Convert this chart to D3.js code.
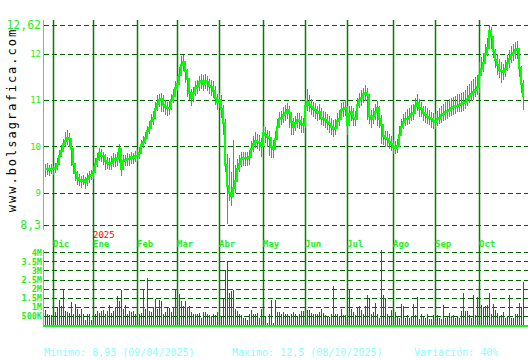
<!DOCTYPE html>
<html>
<head>
<meta charset="utf-8">
<script src="https://cdn.jsdelivr.net/npm/d3@7"></script>
<style>
  body { margin: 0; background: #fff; }
  svg { display: block; }
</style>
</head>
<body>
<div id="chart"></div>
<script>
// Data ----------------------------------------------
const closes = [
  9.50,9.52,9.48,9.52,9.50,9.53,9.62,9.78,9.90,10.05,
  10.12,10.18,10.15,9.95,9.62,9.42,9.32,9.28,9.25,9.28,
  9.22,9.30,9.35,9.38,9.45,9.62,9.72,9.85,9.80,9.78,
  9.68,9.64,9.62,9.65,9.72,9.70,9.75,9.95,9.52,9.68,
  9.70,9.73,9.72,9.76,9.75,9.78,9.80,9.86,10.02,10.10,
  10.18,10.32,10.40,10.55,10.62,10.80,10.92,11.00,11.02,10.90,
  10.85,10.82,10.82,11.00,11.08,11.25,11.35,11.55,11.75,11.82,
  11.62,11.45,11.15,11.05,11.15,11.25,11.30,11.38,11.40,11.35,
  11.42,11.38,11.30,11.28,11.20,11.05,10.95,11.00,10.80,10.50,
  9.60,9.15,9.00,8.93,9.10,9.25,9.50,9.62,9.72,9.74,
  9.75,9.75,9.76,9.95,10.05,10.12,10.10,10.08,10.00,10.28,
  10.25,10.20,10.18,9.98,9.95,10.15,10.42,10.58,10.62,10.68,
  10.72,10.78,10.72,10.52,10.42,10.50,10.57,10.55,10.48,10.45,
  10.88,10.95,10.90,10.85,10.80,10.78,10.72,10.75,10.62,10.60,
  10.57,10.52,10.48,10.42,10.38,10.40,10.55,10.60,10.78,10.80,
  10.83,10.45,10.70,10.74,10.62,10.60,10.90,11.00,11.05,11.12,
  11.15,11.10,10.65,10.58,10.65,10.75,10.82,10.60,10.45,10.22,
  10.18,10.15,10.10,10.05,9.98,9.97,10.00,10.25,10.42,10.52,
  10.58,10.60,10.63,10.70,10.72,10.88,10.93,10.82,10.80,10.72,
  10.68,10.63,10.62,10.58,10.55,10.53,10.58,10.62,10.67,10.70,
  10.74,10.76,10.78,10.82,10.84,10.86,10.88,10.90,10.92,10.93,
  10.95,11.02,11.08,11.14,11.17,11.22,11.28,11.55,11.68,11.80,
  12.00,12.12,12.50,12.35,12.05,11.86,11.75,11.65,11.62,11.60,
  11.68,11.80,11.88,11.98,12.02,12.08,12.10,11.70,11.35,11.06
];

const highs = [
  9.62,9.64,9.60,9.62,9.58,9.64,9.74,9.92,10.02,10.16,
  10.30,10.36,10.28,10.14,9.84,9.58,9.46,9.40,9.36,9.38,
  9.34,9.42,9.46,9.48,9.58,9.74,9.86,9.96,9.94,9.88,
  9.84,9.76,9.74,9.80,9.86,9.84,9.88,10.06,9.84,9.82,
  9.82,9.86,9.84,9.88,9.86,9.90,9.92,9.98,10.14,10.22,
  10.30,10.44,10.54,10.70,10.76,10.96,11.10,11.14,11.16,11.10,
  11.00,10.96,10.98,11.14,11.24,11.40,11.52,11.72,11.96,11.98,
  11.84,11.66,11.40,11.24,11.28,11.40,11.44,11.52,11.56,11.54,
  11.56,11.52,11.46,11.44,11.40,11.30,11.14,11.16,11.10,10.90,
  10.60,9.84,9.74,9.44,10.14,9.60,9.72,9.82,9.88,9.88,
  9.88,9.88,9.92,10.12,10.22,10.30,10.26,10.24,10.18,10.44,
  10.42,10.36,10.34,10.18,10.14,10.34,10.60,10.74,10.76,10.84,
  10.90,10.94,10.88,10.74,10.62,10.66,10.72,10.72,10.66,10.62,
  11.04,11.24,11.10,11.02,10.96,10.94,10.88,10.92,10.82,10.76,
  10.74,10.70,10.66,10.62,10.56,10.58,10.72,10.78,10.94,10.96,
  11.00,10.88,10.86,10.88,10.82,10.76,11.04,11.16,11.22,11.26,
  11.32,11.26,11.04,10.78,10.82,10.92,10.98,10.88,10.68,10.44,
  10.34,10.32,10.26,10.22,10.14,10.12,10.16,10.44,10.60,10.70,
  10.74,10.80,10.82,10.90,10.92,11.04,11.12,11.02,10.96,10.88,
  10.86,10.82,10.78,10.74,10.72,10.70,10.76,10.82,10.86,10.92,
  10.96,10.98,11.02,11.04,11.06,11.08,11.12,11.14,11.16,11.18,
  11.22,11.30,11.34,11.42,11.46,11.50,11.54,11.82,11.92,12.02,
  12.20,12.34,12.62,12.58,12.34,12.10,12.00,11.88,11.82,11.78,
  11.86,11.98,12.08,12.16,12.22,12.26,12.28,12.08,11.74,11.44
];

const lows = [
  9.34,9.38,9.36,9.40,9.38,9.42,9.48,9.60,9.76,9.90,
  9.98,10.04,9.98,9.58,9.40,9.26,9.16,9.14,9.10,9.16,
  9.08,9.14,9.20,9.26,9.30,9.46,9.56,9.68,9.66,9.60,
  9.50,9.50,9.48,9.50,9.56,9.56,9.58,9.64,9.36,9.50,
  9.58,9.58,9.58,9.62,9.62,9.66,9.68,9.72,9.86,9.96,
  10.04,10.16,10.26,10.38,10.46,10.64,10.76,10.86,10.74,10.74,
  10.68,10.66,10.68,10.80,10.94,11.08,11.20,11.38,11.56,11.64,
  11.36,11.06,10.98,10.88,10.96,11.08,11.14,11.20,11.24,11.20,
  11.24,11.20,11.14,11.10,11.04,10.88,10.80,10.84,10.60,10.26,
  9.46,8.32,8.82,8.70,8.92,9.00,9.30,9.46,9.56,9.58,
  9.58,9.58,9.60,9.78,9.88,9.96,9.94,9.90,9.76,10.06,
  10.08,10.00,9.80,9.74,9.76,9.96,10.24,10.40,10.46,10.50,
  10.56,10.60,10.40,10.24,10.26,10.34,10.40,10.38,10.30,10.30,
  10.40,10.76,10.74,10.68,10.64,10.60,10.56,10.58,10.46,10.44,
  10.40,10.36,10.30,10.26,10.20,10.24,10.38,10.44,10.60,10.64,
  10.66,10.26,10.54,10.56,10.44,10.44,10.70,10.84,10.88,10.94,
  10.98,10.56,10.48,10.40,10.48,10.58,10.44,10.40,10.06,10.04,
  10.00,9.98,9.94,9.90,9.84,9.84,9.86,10.06,10.26,10.38,
  10.44,10.46,10.48,10.56,10.58,10.70,10.76,10.64,10.64,10.56,
  10.50,10.48,10.46,10.40,10.38,10.38,10.44,10.48,10.50,10.56,
  10.58,10.60,10.64,10.66,10.68,10.70,10.74,10.76,10.76,10.78,
  10.80,10.86,10.94,10.98,11.00,11.06,11.10,11.16,11.50,11.60,
  11.80,11.95,12.25,12.10,11.90,11.70,11.55,11.48,11.36,11.44,
  11.50,11.64,11.70,11.80,11.86,11.90,11.90,11.50,11.16,10.80
];

// volume in millions
const volumes = [
  0.8,0.6,0.55,0.55,0.62,0.7,1.0,1.4,1.05,2.0,
  0.75,0.72,0.65,1.25,0.6,1.15,0.9,0.6,0.9,0.58,
  0.3,0.58,0.58,0.3,0.7,0.58,0.75,0.68,0.75,0.8,
  0.58,0.75,1.1,0.65,0.75,0.98,1.6,1.3,1.95,0.9,
  1.1,0.58,0.75,0.7,0.75,0.58,1.1,0.58,0.65,2.0,
  0.9,2.6,0.75,0.72,1.0,1.45,0.9,1.4,1.3,0.58,
  0.72,0.95,0.95,0.7,1.0,2.0,1.25,1.7,1.3,1.05,
  1.3,1.0,1.05,0.72,0.62,0.58,0.62,0.65,0.4,0.72,
  0.72,0.62,0.55,0.5,0.62,0.55,0.7,0.58,0.5,1.45,
  3.05,3.5,1.75,1.85,1.95,0.9,0.78,0.58,0.55,0.4,
  0.4,0.3,0.58,0.8,0.58,0.62,0.65,0.4,0.9,0.58,
  0.5,0.1,0.58,1.4,0.1,1.35,0.72,0.7,0.58,0.7,
  0.58,0.58,0.5,0.62,0.72,0.62,0.5,0.58,0.75,0.75,
  2.0,0.8,0.8,0.68,0.58,0.58,0.58,0.7,0.9,0.65,
  0.55,0.5,0.45,0.58,2.15,0.58,0.58,0.5,0.9,0.55,
  0.55,2.3,1.9,0.9,0.72,0.55,0.97,1.04,0.82,0.6,
  1.04,1.65,1.46,0.6,0.7,1.19,0.63,0.41,4.15,1.65,
  1.5,0.63,0.48,0.82,0.72,0.72,0.48,0.41,1.15,1.04,
  0.41,0.55,0.41,0.48,1.15,0.55,1.56,0.34,0.6,0.48,
  0.41,0.6,0.34,0.34,0.55,0.41,0.55,0.41,0.34,1.1,
  0.41,0.48,0.67,0.48,0.55,0.41,0.48,0.41,0.78,1.78,
  0.78,0.78,0.55,0.41,1.66,0.55,1.56,1.84,1.1,1.0,
  1.04,1.1,1.78,0.6,1.15,0.82,0.67,0.48,0.55,0.7,
  0.41,0.48,1.65,0.36,0.41,0.6,0.63,1.19,1.0,2.37
];

const monthLabels = ["Dic","Ene","Feb","Mar","Abr","May","Jun","Jul","Ago","Sep","Oct"];
const monthStart = [4, 24, 46, 66, 87, 109, 130, 151, 174, 195, 217];
const yearLabel = {text: "2025", index: 24};

const priceTicks = [8.3, 9, 10, 11, 12, 12.62];
const volumeTicks = [0.5, 1, 1.5, 2, 2.5, 3, 3.5, 4];

const summary = [
  {text: "Minimo: 8,93 (09/04/2025)", x: 44},
  {text: "Maximo: 12,5 (08/10/2025)", x: 232},
  {text: "Variación: 40%", x: 414}
];

// Constants ----------------------------------------------
const width = 530;
const height = 360;
const left = 43;
const right = 528;
const font = "'DejaVu Sans Mono', 'Liberation Mono', monospace";

const gridColor = "#006400";
const monthColor = "#008000";
const labelColor = "#22ee22";

// Scales ----------------------------------------------
const xScale = d3.scaleLinear()
  .domain([0, closes.length - 1])
  .range([45, 523]);

const yPrice = d3.scaleLinear()
  .domain([8.3, 12.62])
  .range([225, 25]);

const yVol = d3.scaleLinear()
  .domain([0, 4])
  .range([325, 252.3]);

// SVG ----------------------------------------------
const svg = d3.select("#chart")
  .append("svg")
  .attr("width", width)
  .attr("height", height)
  .style("font-family", font);

// watermark
svg.append("text")
  .attr("transform", "translate(16,120) rotate(-90)")
  .attr("text-anchor", "middle")
  .attr("font-size", 12)
  .attr("letter-spacing", 2)
  .attr("fill", "#000")
  .text("www.bolsagrafica.com");

// price grid
svg.append("g")
  .selectAll("line")
  .data(priceTicks)
  .enter()
  .append("line")
  .attr("x1", left + 1)
  .attr("x2", right)
  .attr("y1", d => Math.round(yPrice(d)) + 0.5)
  .attr("y2", d => Math.round(yPrice(d)) + 0.5)
  .attr("stroke", gridColor)
  .attr("stroke-width", 1.2)
  .attr("stroke-dasharray", "5,3");

// volume grid
svg.append("g")
  .selectAll("line")
  .data(volumeTicks)
  .enter()
  .append("line")
  .attr("x1", left + 1)
  .attr("x2", right)
  .attr("y1", d => Math.round(yVol(d)) + 0.5)
  .attr("y2", d => Math.round(yVol(d)) + 0.5)
  .attr("stroke", gridColor)
  .attr("stroke-width", 1.2)
  .attr("stroke-dasharray", "5,3");

// month lines
svg.append("g")
  .selectAll("line")
  .data(monthStart)
  .enter()
  .append("line")
  .attr("x1", d => xScale(d) + 0.5)
  .attr("x2", d => xScale(d) + 0.5)
  .attr("y1", 20)
  .attr("y2", 326)
  .attr("stroke", monthColor)
  .attr("stroke-width", 1.5);

// month labels
svg.append("g")
  .selectAll("text")
  .data(monthStart)
  .enter()
  .append("text")
  .attr("x", d => xScale(d))
  .attr("y", 247)
  .attr("font-size", 9)
  .attr("font-weight", "bold")
  .attr("fill", labelColor)
  .text((d, i) => monthLabels[i]);

svg.append("text")
  .attr("x", xScale(yearLabel.index))
  .attr("y", 238)
  .attr("font-size", 9)
  .attr("fill", "#ff0000")
  .text(yearLabel.text);

// axis lines
svg.append("line")
  .attr("x1", left + 0.5).attr("x2", left + 0.5)
  .attr("y1", 20).attr("y2", 230)
  .attr("stroke", "#22ff22");

svg.append("line")
  .attr("x1", left + 0.5).attr("x2", left + 0.5)
  .attr("y1", 250).attr("y2", 326)
  .attr("stroke", "#22ff22");

// price axis labels
const priceAxis = svg.append("g")
  .attr("transform", `translate(${left - 2},0)`)
  .call(d3.axisLeft(yPrice)
    .tickValues(priceTicks)
    .tickSize(0)
    .tickPadding(0)
    .tickFormat(d => String(d).replace(".", ",")));

priceAxis.select(".domain").remove();
priceAxis.selectAll("text")
  .attr("fill", labelColor)
  .style("font-family", font)
  .attr("font-size", d => (d === 12.62 || d === 8.3) ? 11.5 : 9);

// volume axis labels
const volAxis = svg.append("g")
  .attr("transform", `translate(${left - 1},0)`)
  .call(d3.axisLeft(yVol)
    .tickValues(volumeTicks)
    .tickSize(0)
    .tickPadding(0)
    .tickFormat(d => d < 1 ? (d * 1000) + "K" : d + "M"));

volAxis.select(".domain").remove();
volAxis.selectAll("text")
  .attr("fill", labelColor)
  .attr("font-weight", "bold")
  .style("font-family", font)
  .attr("font-size", 8.5);

// volume bars
svg.append("g")
  .selectAll("rect")
  .data(volumes)
  .enter()
  .append("rect")
  .attr("x", (d, i) => xScale(i))
  .attr("y", d => Math.round(yVol(d)))
  .attr("width", 1)
  .attr("height", d => 325 - Math.round(yVol(d)))
  .attr("fill", "#ff0000")
  .attr("shape-rendering", "crispEdges");

svg.append("line")
  .attr("x1", left).attr("x2", right)
  .attr("y1", 326).attr("y2", 326)
  .attr("stroke", "#22ee22")
  .attr("stroke-width", 2);

// high-low bars
svg.append("g")
  .selectAll("rect")
  .data(closes)
  .enter()
  .append("rect")
  .attr("x", (d, i) => xScale(i))
  .attr("y", (d, i) => Math.round(yPrice(highs[i])))
  .attr("width", 1)
  .attr("height", (d, i) => Math.max(1, Math.round(yPrice(lows[i]) - yPrice(highs[i]))))
  .attr("fill", "#1ba3b5")
  .attr("shape-rendering", "crispEdges");

// close line
const line = d3.line()
  .x((d, i) => xScale(i))
  .y(d => Math.round(yPrice(d)))
  .curve(d3.curveStepAfter);

svg.append("path")
  .datum(closes)
  .attr("d", line)
  .attr("fill", "none")
  .attr("stroke", "#00ff00")
  .attr("stroke-width", 2)
  .attr("shape-rendering", "crispEdges");

// summary text
svg.append("g")
  .selectAll("text")
  .data(summary)
  .enter()
  .append("text")
  .attr("x", d => d.x)
  .attr("y", 356)
  .attr("font-size", 10)
  .attr("fill", "#88ffff")
  .text(d => d.text);
</script>
</body>
</html>
